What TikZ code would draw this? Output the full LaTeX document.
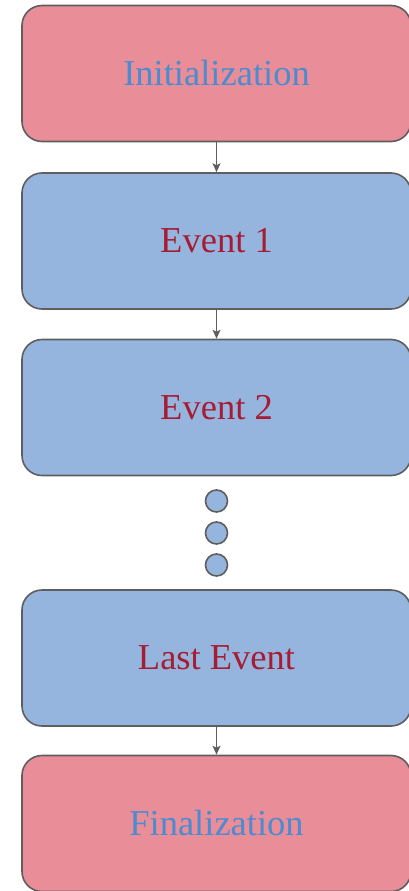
\documentclass[tikz,border=0pt]{standalone}
\usepackage{fontspec}
\setmainfont{Liberation Serif}
\usetikzlibrary{arrows.meta}
\definecolor{boxpink}{HTML}{E98D98}
\definecolor{boxblue}{HTML}{95B5DE}
\definecolor{txtblue}{HTML}{4C8BCF}
\definecolor{txtred}{HTML}{A51C33}
\definecolor{edgegray}{HTML}{5E5E5E}
\tikzset{
  stage/.style={draw=edgegray, line width=1.6pt, rounded corners=20pt,
    minimum width=389pt, minimum height=136pt, inner sep=0pt,
    font=\fontsize{36.5}{44}\selectfont},
  endstage/.style={stage, fill=boxpink, text=txtblue},
  evstage/.style={stage, fill=boxblue, text=txtred},
  dot/.style={circle, draw=edgegray, line width=1.6pt, fill=boxblue,
    minimum size=22pt, inner sep=0pt},
  flow/.style={draw=edgegray, line width=1.4pt,
    -{Stealth[length=9pt, width=8pt, inset=2pt]}}
}
\begin{document}
\begin{tikzpicture}[x=1pt, y=1pt]
  \useasboundingbox (0,0) rectangle (408,-891);
  \node[endstage] (init) at (216.5,-73.5) {Initialization};
  \node[evstage]  (ev1)  at (216.5,-241) {Event 1};
  \node[evstage]  (ev2)  at (216.5,-407.5) {Event 2};
  \node[dot] (d1) at (216.5,-501) {};
  \node[dot] (d2) at (216.5,-533) {};
  \node[dot] (d3) at (216.5,-565) {};
  \node[evstage]  (last) at (216.5,-658) {Last Event};
  \node[endstage] (fin)  at (216.5,-823.5) {Finalization};
  \draw[flow] (init) -- (ev1);
  \draw[flow] (ev1) -- (ev2);
  \draw[flow] (last) -- (fin);
\end{tikzpicture}
\end{document}
